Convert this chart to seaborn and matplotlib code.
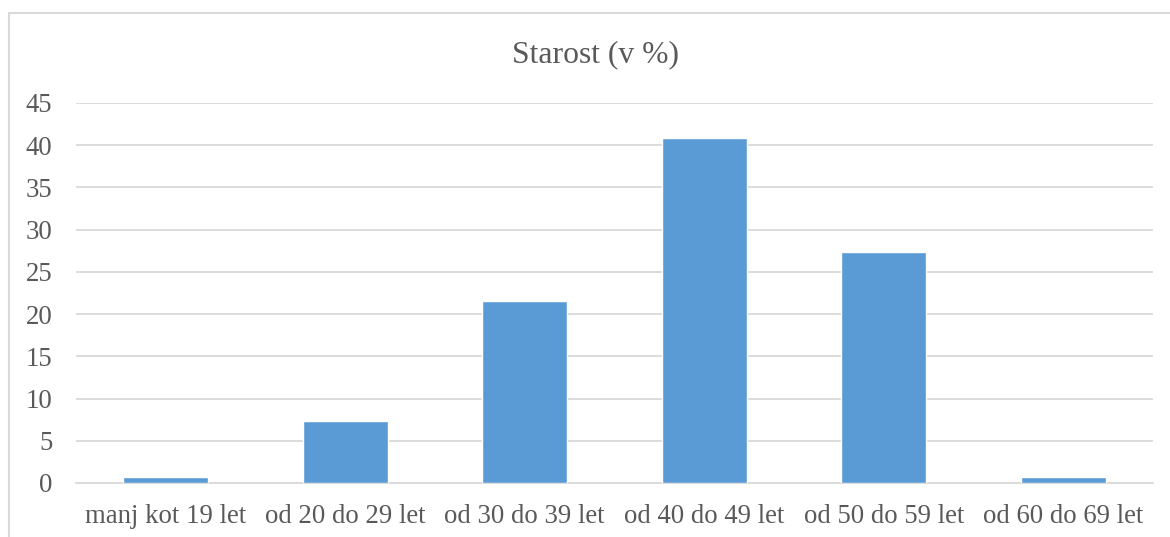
import matplotlib
matplotlib.use("Agg")
import matplotlib.pyplot as plt
import seaborn as sns
import pandas as pd
from matplotlib.lines import Line2D

categories = ["manj kot 19 let", "od 20 do 29 let", "od 30 do 39 let",
              "od 40 do 49 let", "od 50 do 59 let", "od 60 do 69 let"]
shares = [0.7, 7.4, 21.6, 40.8, 27.4, 0.7]
y_ticks = [0, 5, 10, 15, 20, 25, 30, 35, 40, 45]
title = "Starost (v %)"

sns.set_theme(style="white")
plt.rcParams["font.family"] = ["Liberation Serif", "DejaVu Serif"]

text_color = "#595959"
grid_color = "#D9D9D9"
bar_color = "#5B9BD5"

df = pd.DataFrame({"kategorija": categories, "delez": shares})

fig = plt.figure(figsize=(11.7, 5.37), dpi=100)
ax = fig.add_axes([76 / 1170, 1 - 483 / 537, (1153 - 76) / 1170, (483 - 103) / 537])

sns.barplot(data=df, x="kategorija", y="delez", color=bar_color,
            width=0.475, saturation=1, ax=ax, zorder=3)

ax.set_ylim(0, 45)
ax.set_xlim(-0.5, len(categories) - 0.5)
ax.set_yticks(y_ticks)
ax.yaxis.grid(True, color=grid_color, linewidth=1.3, zorder=0)
ax.set_axisbelow(True)
ax.set_xlabel("")
ax.set_ylabel("")

for side in ["top", "right", "left"]:
    ax.spines[side].set_visible(False)
ax.spines["bottom"].set_color(grid_color)
ax.spines["bottom"].set_linewidth(1.3)

ax.tick_params(axis="y", length=0, pad=17, labelsize=19.3, labelcolor=text_color)
ax.tick_params(axis="x", which="major", length=0, pad=15, labelsize=19.3,
               labelcolor=text_color)
ax.set_xticks([i - 0.5 for i in range(len(categories) + 1)], minor=True)
ax.tick_params(axis="x", which="minor", length=7, width=1.3, color=grid_color)

fig.text(596 / 1170, 1 - 55 / 537, title, ha="center", va="center",
         fontsize=22.8, color=text_color)

# chart frame (top and left edges)
fig.add_artist(Line2D([8.5 / 1170, 1.0], [1 - 13 / 537, 1 - 13 / 537],
                      transform=fig.transFigure, color=grid_color, linewidth=1.5))
fig.add_artist(Line2D([8.5 / 1170, 8.5 / 1170], [0.0, 1 - 13 / 537],
                      transform=fig.transFigure, color=grid_color, linewidth=1.5))

fig.savefig("out.png", dpi=100, facecolor="white")
